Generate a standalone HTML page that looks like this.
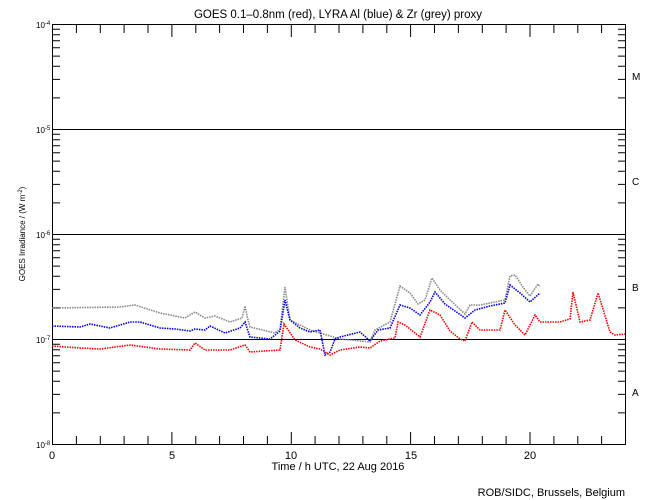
<!DOCTYPE html>
<html><head><style>
html,body{margin:0;padding:0;background:#fff;}
svg{display:block;font-family:"Liberation Sans",sans-serif;}
</style></head><body>
<svg width="650" height="500" viewBox="0 0 650 500" xmlns="http://www.w3.org/2000/svg">
<defs>
<path id="dec" d="M53 412.9h7M53 394.4h7M53 381.3h7M53 371.1h7M53 362.8h7M53 355.8h7M53 349.7h7M53 344.3h7M618 412.9h8M618 394.4h8M618 381.3h8M618 371.1h8M618 362.8h8M618 355.8h8M618 349.7h8M618 344.3h8"/>
</defs>
<rect width="650" height="500" fill="#fff"/>
<text x="338" y="18" font-size="11.5" text-anchor="middle">GOES 0.1–0.8nm (red), LYRA Al (blue) &amp; Zr (grey) proxy</text>
<g stroke="#000" stroke-width="1" fill="none">
<rect x="52.5" y="24.5" width="573" height="420"/>
<line x1="52" y1="129.5" x2="626" y2="129.5"/>
<line x1="52" y1="234.5" x2="626" y2="234.5"/>
<line x1="52" y1="339.5" x2="626" y2="339.5"/>
<use href="#dec"/>
<use href="#dec" transform="translate(0,-105)"/>
<use href="#dec" transform="translate(0,-210)"/>
<use href="#dec" transform="translate(0,-315)"/>
<path d="M76.4 444v-8M100.3 444v-8M124.1 444v-8M148 444v-8M171.9 444v-12M195.8 444v-8M219.6 444v-8M243.5 444v-8M267.4 444v-8M291.3 444v-12M315.1 444v-8M339 444v-8M362.9 444v-8M386.8 444v-8M410.6 444v-12M434.5 444v-8M458.4 444v-8M482.3 444v-8M506.1 444v-8M530 444v-12M553.9 444v-8M577.8 444v-8M601.6 444v-8"/>
<path d="M76.4 25v8M100.3 25v8M124.1 25v8M148 25v8M171.9 25v12M195.8 25v8M219.6 25v8M243.5 25v8M267.4 25v8M291.3 25v12M315.1 25v8M339 25v8M362.9 25v8M386.8 25v8M410.6 25v12M434.5 25v8M458.4 25v8M482.3 25v8M506.1 25v8M530 25v12M553.9 25v8M577.8 25v8M601.6 25v8"/>
</g>
<g font-size="8">
<text x="36" y="28">10<tspan font-size="6" dy="-3">-4</tspan></text>
<text x="36" y="133">10<tspan font-size="6" dy="-3">-5</tspan></text>
<text x="36" y="238">10<tspan font-size="6" dy="-3">-6</tspan></text>
<text x="36" y="343">10<tspan font-size="6" dy="-3">-7</tspan></text>
<text x="36" y="448">10<tspan font-size="6" dy="-3">-8</tspan></text>
</g>
<g font-size="10">
<text x="632" y="80">M</text><text x="632" y="185">C</text><text x="632" y="291">B</text><text x="632" y="396">A</text>
</g>
<g font-size="11" text-anchor="middle">
<text x="52" y="459">0</text><text x="172" y="459">5</text><text x="291" y="459">10</text><text x="411" y="459">15</text><text x="530" y="459">20</text>
<text x="338" y="470">Time / h UTC, 22 Aug 2016</text>
</g>
<text x="625" y="496" font-size="11" text-anchor="end">ROB/SIDC, Brussels, Belgium</text>
<text transform="translate(25,234) rotate(-90)" font-size="8" text-anchor="middle">GOES Irradiance / (W m<tspan font-size="6" dy="-3">-2</tspan><tspan dy="3">)</tspan></text>
<g fill="none" stroke-width="1.6" stroke-dasharray="1.5 1">
<polyline stroke="#888" points="52,308 120,307 135,305 160,313 185,318 195,312 205,318 215,316 230,322 242,318 245,306 248,320 250,327 275,333 280,329 285,287 290,320 310,330 320,333 340,339 370,342 375,330 390,322 400,286 410,293 418,304 425,300 432,278 440,290 450,300 465,314 470,305 480,305 495,302 505,300 510,276 515,275 525,290 530,296 538,284 540,287"/>
<polyline stroke="#00f" points="52,326 80,327 90,324 110,328 130,322 140,322 160,328 175,329 190,331 195,329 205,330 210,326 225,333 240,328 245,322 250,337 270,339 280,331 285,300 290,320 300,328 310,332 320,330 325,355 330,352 335,339 340,337 360,332 370,341 378,330 390,328 400,305 410,308 420,315 430,302 435,292 445,304 455,311 465,318 475,310 490,306 505,303 510,285 520,293 530,302 540,293"/>
<polyline stroke="#f00" points="52,346 80,348 100,349 130,345 160,349 190,350 195,343 205,350 230,350 245,345 250,352 280,350 284,324 295,340 310,347 320,349 330,355 340,350 360,347 370,348 380,341 395,338 398,322 405,325 415,333 420,337 430,310 440,315 450,331 460,339 465,341 472,322 480,330 500,330 505,310 515,325 525,335 535,315 540,322 560,322 570,319 573,292 580,322 590,320 598,293 610,332 615,335 625,334"/>
</g>
</svg>
</body></html>
